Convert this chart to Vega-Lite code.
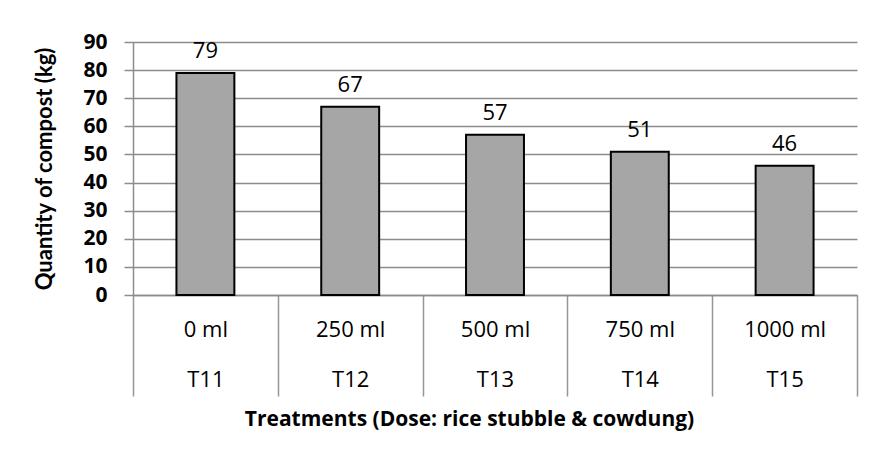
{
  "$schema": "https://vega.github.io/schema/vega-lite/v6.json",
  "width": 724,
  "height": 253,
  "autosize": {"type": "none"},
  "padding": {"left": 133, "top": 42, "right": 18, "bottom": 164},
  "background": "white",
  "config": {
    "view": {"stroke": null},
    "font": "Open Sans"
  },
  "data": {
    "values": [
      {"category": "0 ml|T11", "dose": "0 ml", "treatment": "T11", "quantity": 79},
      {"category": "250 ml|T12", "dose": "250 ml", "treatment": "T12", "quantity": 67},
      {"category": "500 ml|T13", "dose": "500 ml", "treatment": "T13", "quantity": 57},
      {"category": "750 ml|T14", "dose": "750 ml", "treatment": "T14", "quantity": 51},
      {"category": "1000 ml|T15", "dose": "1000 ml", "treatment": "T15", "quantity": 46}
    ]
  },
  "encoding": {
    "x": {
      "field": "category",
      "type": "nominal",
      "sort": null,
      "scale": {"paddingInner": 0, "paddingOuter": 0},
      "axis": {
        "title": "Treatments (Dose: rice stubble & cowdung)",
        "titleFont": "Open Sans",
        "titleFontSize": 21,
        "titleFontWeight": "bold",
        "titleColor": "#000000",
        "titlePadding": 12,
        "titleX": 336,
        "titleAlign": "center",
        "labelExpr": "split(datum.label, '|')",
        "labelAngle": 0,
        "labelFont": "Open Sans",
        "labelFontSize": 22,
        "labelColor": "#000000",
        "labelLineHeight": 50,
        "labelBaseline": "top",
        "labelPadding": -77,
        "labelOverlap": false,
        "labelBound": false,
        "tickBand": "extent",
        "tickSize": 101,
        "tickColor": "#969696",
        "tickWidth": 1.5,
        "domainColor": "#8c8c8c",
        "domainWidth": 1.5
      }
    },
    "y": {
      "field": "quantity",
      "type": "quantitative",
      "scale": {"domain": [0, 90]},
      "axis": {
        "title": "Quantity of compost (kg)",
        "titleFont": "Lato",
        "titleFontSize": 22,
        "titleFontWeight": "bold",
        "titleColor": "#000000",
        "titlePadding": 26,
        "values": [0, 10, 20, 30, 40, 50, 60, 70, 80, 90],
        "labelFont": "Open Sans",
        "labelFontSize": 21,
        "labelFontWeight": "bold",
        "labelColor": "#000000",
        "labelPadding": 17,
        "tickSize": 9,
        "tickColor": "#8c8c8c",
        "tickWidth": 1.5,
        "domainColor": "#8c8c8c",
        "domainWidth": 1.5,
        "grid": true,
        "gridColor": "#8c8c8c",
        "gridWidth": 1.5
      }
    }
  },
  "layer": [
    {
      "mark": {"type": "bar", "width": {"band": 0.4}, "fill": "#A6A6A6", "stroke": "#000000", "strokeWidth": 2}
    },
    {
      "mark": {"type": "text", "baseline": "alphabetic", "dy": -15, "fontSize": 22, "font": "Open Sans", "color": "#000000"},
      "encoding": {"text": {"field": "quantity", "type": "quantitative"}}
    }
  ]
}
